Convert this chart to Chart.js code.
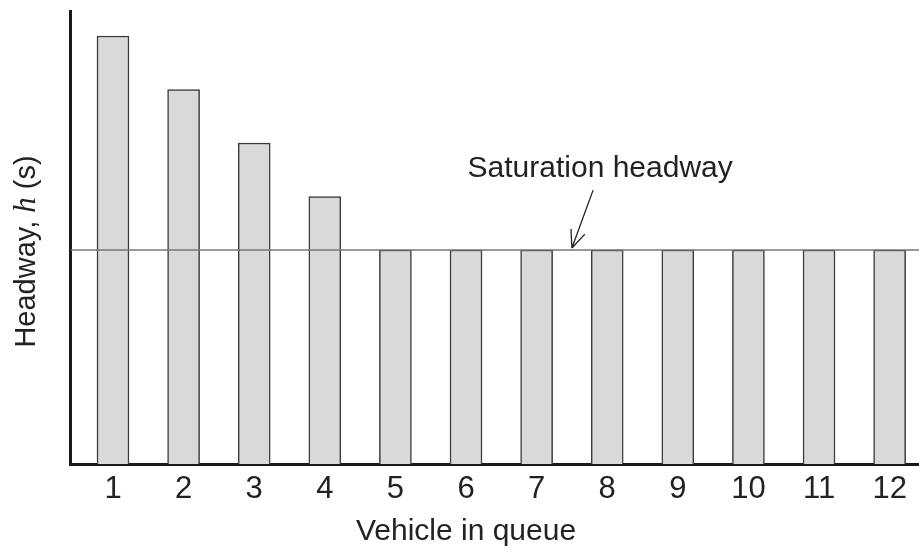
<!DOCTYPE html>
<html>
<head>
<meta charset="utf-8">
<script src="https://cdn.jsdelivr.net/npm/chart.js@4.4.1/dist/chart.umd.min.js"></script>
<style>
  html, body { margin: 0; padding: 0; background: #fff; overflow: hidden; }
  canvas { display: block; }
</style>
</head>
<body>
<canvas id="chart" width="919" height="550"></canvas>
<script>
// vehicle position in the queue (x) and headway in seconds (y)
const vehicles = [1, 2, 3, 4, 5, 6, 7, 8, 9, 10, 11, 12];
const headways = [4.0, 3.5, 3.0, 2.5, 2.0, 2.0, 2.0, 2.0, 2.0, 2.0, 2.0, 2.0];
const saturationHeadway = 2.0;

const xTitle = "Vehicle in queue";
const yTitleParts = ["Headway, ", "h", " (s)"];
const noteText = "Saturation headway";
// note anchor and arrow, in data units
const noteAt = [7.9, 2.68];
const arrowFrom = [7.8, 2.56];
const arrowTo = [7.5, saturationHeadway];

const FONT = '"Liberation Sans", Arial, sans-serif';
const INK = "#222";

const annotate = {
  id: "annotate",
  afterDatasetsDraw(chart) {
    const { ctx, chartArea, scales: { x, y } } = chart;
    ctx.save();

    // saturation headway line
    const yl = y.getPixelForValue(saturationHeadway);
    ctx.strokeStyle = "#777";
    ctx.lineWidth = 1.5;
    ctx.beginPath();
    ctx.moveTo(chartArea.left + 1, yl);
    ctx.lineTo(chartArea.right, yl);
    ctx.stroke();

    // label
    ctx.fillStyle = INK;
    ctx.font = "30px " + FONT;
    ctx.textAlign = "center";
    ctx.textBaseline = "alphabetic";
    ctx.fillText(noteText, x.getPixelForValue(noteAt[0]), y.getPixelForValue(noteAt[1]));

    // arrow
    const x0 = x.getPixelForValue(arrowFrom[0]), y0 = y.getPixelForValue(arrowFrom[1]);
    const x1 = x.getPixelForValue(arrowTo[0]), y1 = y.getPixelForValue(arrowTo[1]) - 2;
    const ang = Math.atan2(y1 - y0, x1 - x0);
    ctx.strokeStyle = "#222";
    ctx.lineWidth = 1.3;
    ctx.beginPath();
    ctx.moveTo(x0, y0);
    ctx.lineTo(x1, y1);
    for (const d of [-0.4, 0.4]) {
      ctx.moveTo(x1, y1);
      ctx.lineTo(x1 - 19 * Math.cos(ang + d), y1 - 19 * Math.sin(ang + d));
    }
    ctx.stroke();

    // x axis title
    ctx.font = "30px " + FONT;
    ctx.fillText(xTitle, x.getPixelForValue(6), 540);

    // y axis title, with italic h
    const fonts = ["29px " + FONT, 'italic 31px "Liberation Serif", serif', "29px " + FONT];
    let total = 0;
    const widths = yTitleParts.map((t, i) => { ctx.font = fonts[i]; const w = ctx.measureText(t).width; total += w; return w; });
    ctx.translate(35, (chartArea.top + chartArea.bottom) / 2 + 14);
    ctx.rotate(-Math.PI / 2);
    ctx.textAlign = "left";
    let cx = -total / 2;
    yTitleParts.forEach((t, i) => { ctx.font = fonts[i]; ctx.fillText(t, cx, 0); cx += widths[i]; });

    ctx.restore();
  }
};

new Chart(document.getElementById("chart"), {
  type: "bar",
  data: {
    datasets: [{
      data: vehicles.map((v, i) => ({ x: v, y: headways[i] })),
      backgroundColor: "#d9d9d9",
      borderColor: "#3a3a3a",
      borderWidth: 1.5,
      barThickness: 32
    }]
  },
  options: {
    responsive: false,
    animation: false,
    devicePixelRatio: 1,
    layout: { padding: { top: 11, left: 0, right: 0, bottom: 0 } },
    plugins: { legend: { display: false }, tooltip: { enabled: false } },
    scales: {
      x: {
        type: "linear",
        offset: false,
        min: 0.391,
        max: 12.416,
        afterBuildTicks: (s) => { s.ticks = vehicles.map(v => ({ value: v })); },
        afterFit: (s) => { s.height = 86; },
        grid: { display: false, drawTicks: false, offset: false },
        border: { display: true, width: 3, color: "#1a1a1a" },
        ticks: { color: INK, font: { family: FONT, size: 31 }, padding: 7, autoSkip: false, maxRotation: 0 }
      },
      y: {
        min: 0,
        max: 4.234,
        afterFit: (s) => { s.width = 70; },
        grid: { display: false, drawTicks: false },
        border: { display: true, width: 3, color: "#1a1a1a" },
        ticks: { display: false }
      }
    }
  },
  plugins: [annotate]
});
</script>
</body>
</html>
